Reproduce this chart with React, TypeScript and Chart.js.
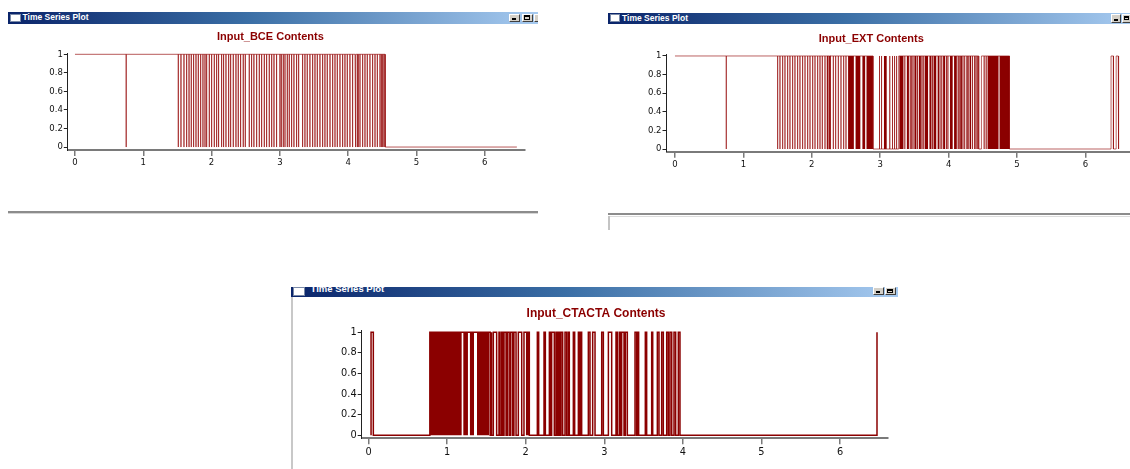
import React, { useEffect, useRef } from "react";
import { Chart, registerables } from "chart.js";

Chart.register(...registerables);

type Span = [number, number];
type Level = [number, number];

// ---------------- shared axis ticks ----------------
const xTickValues = [0, 1, 2, 3, 4, 5, 6];
const xTickLabels = ["0", "1", "2", "3", "4", "5", "6"];
const yTickValues = [0, 0.2, 0.4, 0.6, 0.8, 1];
const yTickLabels = ["0", "0.2", "0.4", "0.6", "0.8", "1"];

const windowCaption = "Time Series Plot";

// ---------------- Input_BCE ----------------
const bceTitle = "Input_BCE Contents";
const bceLevels: Level[] = [[0, 1], [4.545, 0]];
const bceSpikes: number[] = [
  0.75,
  1.513, 1.552, 1.596, 1.635, 1.67, 1.703, 1.737, 1.772, 1.806, 1.84, 1.874, 1.904, 1.928,
  1.967, 2.001, 2.04, 2.074, 2.103, 2.147, 2.176, 2.211, 2.25, 2.279, 2.318, 2.357, 2.391,
  2.425, 2.464, 2.494, 2.552, 2.586, 2.62, 2.66, 2.699, 2.733, 2.772, 2.806, 2.845, 2.88,
  2.914, 2.952, 3.001, 3.021, 3.05, 3.075, 3.109, 3.138, 3.172, 3.206, 3.245, 3.275, 3.333,
  3.367, 3.401, 3.44, 3.48, 3.514, 3.548, 3.587, 3.626, 3.66, 3.694, 3.734, 3.773, 3.807,
  3.841, 3.88, 3.919, 3.953, 3.987, 4.026, 4.065, 4.1, 4.114, 4.134, 4.148, 4.173, 4.212,
  4.246, 4.28, 4.319, 4.358, 4.393, 4.427, 4.466, 4.486, 4.505, 4.525, 4.54,
];
const bceSpans: Span[] = [];
const bceDense: Span[] = [];
const bceEnd = 6.47;

// ---------------- Input_EXT ----------------
const extTitle = "Input_EXT Contents";
const extLevels: Level[] = [
  [0, 1], [2.895, 0], [3.27, 1], [4.44, 0], [4.48, 1], [4.89, 0],
  [6.375, 1], [6.41, 0], [6.45, 1], [6.48, 0],
];
const extSpikes: number[] = [
  0.75,
  1.501, 1.535, 1.574, 1.608, 1.647, 1.681, 1.72, 1.754, 1.793, 1.827, 1.866, 1.901, 1.94,
  1.974, 2.013, 2.047, 2.086, 2.12, 2.154, 2.193, 2.232, 2.266, 2.315, 2.349, 2.388, 2.427,
  2.466, 2.5,
  2.99, 3.02, 3.14, 3.18, 3.21, 3.24,
  3.36, 3.44, 3.46, 3.48, 3.545, 3.61, 3.63, 3.765, 3.875, 3.9, 3.97, 3.99, 4.14, 4.155,
  4.21, 4.235, 4.295, 4.35, 4.38, 4.4, 4.42,
  4.52, 4.55,
];
const extSpans: Span[] = [[2.228, 2.24], [2.262, 2.274]];
const extDense: Span[] = [
  [2.53, 2.615], [2.64, 2.71], [2.74, 2.78], [2.8, 2.895], [3.055, 3.095], [3.28, 3.34],
  [3.39, 3.42], [3.5, 3.53], [3.565, 3.595], [3.65, 3.7], [3.72, 3.75], [3.78, 3.82],
  [3.84, 3.86], [3.92, 3.95], [4.02, 4.06], [4.08, 4.12], [4.17, 4.195], [4.26, 4.28],
  [4.31, 4.33], [4.57, 4.73], [4.745, 4.89],
];
const extEnd = 6.49;

// ---------------- Input_CTACTA ----------------
const ctaTitle = "Input_CTACTA Contents";
const ctaLevels: Level[] = [[0.032, 0], [0.78, 1], [2.046, 0], [6.47, 1]];
const ctaSpikes: number[] = [];
const ctaSpans: Span[] = [
  [0.032, 0.061],
  [1.548, 1.562], [1.567, 1.588], [1.63, 1.66], [1.673, 1.694], [1.707, 1.724], [1.75, 1.766],
  [1.79, 1.81], [1.835, 1.85], [1.877, 1.906], [1.949, 1.978],
  [2.148, 2.165], [2.233, 2.25], [2.301, 2.318], [2.33, 2.364], [2.385, 2.402], [2.419, 2.436],
  [2.449, 2.47], [2.5, 2.521], [2.542, 2.555], [2.606, 2.623], [2.67, 2.682], [2.7, 2.712],
  [2.797, 2.818], [2.852, 2.882], [2.967, 2.988], [3.052, 3.094], [3.149, 3.166], [3.191, 3.208],
  [3.221, 3.251], [3.268, 3.293], [3.391, 3.412], [3.421, 3.437], [3.522, 3.539], [3.603, 3.616],
  [3.675, 3.696], [3.73, 3.751], [3.794, 3.815], [3.836, 3.858], [3.887, 3.908], [3.942, 3.963],
];
const ctaDense: Span[] = [[0.78, 1.185], [1.206, 1.265], [1.29, 1.342], [1.38, 1.535], [2.003, 2.046]];
const ctaEnd = 6.47;

const RED = "#8b0000";

type Pt = { x: number; y: number };

function buildSignal(levels: Level[], spikes: number[], spans: Span[], end: number): Pt[] {
  type Ev = { t: number; k: number; v: number };
  const evs: Ev[] = [];
  levels.forEach(([t, v]) => evs.push({ t, k: 0, v }));
  spikes.forEach((t) => evs.push({ t, k: 1, v: 0 }));
  spans.forEach(([a, b]) => evs.push({ t: a, k: 2, v: b }));
  evs.sort((p, q) => p.t - q.t || p.k - q.k);
  const pts: Pt[] = [];
  let cur: number | null = null;
  for (const e of evs) {
    if (e.k === 0) {
      if (cur === null) pts.push({ x: e.t, y: e.v });
      else pts.push({ x: e.t, y: cur }, { x: e.t, y: e.v });
      cur = e.v;
    } else if (cur !== null) {
      const o = 1 - cur;
      if (e.k === 1) pts.push({ x: e.t, y: cur }, { x: e.t, y: o }, { x: e.t, y: cur });
      else pts.push({ x: e.t, y: cur }, { x: e.t, y: o }, { x: e.v, y: o }, { x: e.v, y: cur });
    }
  }
  if (cur !== null) pts.push({ x: end, y: cur });
  return pts;
}

function buildDense(blocks: Span[]): Pt[] {
  const pts: Pt[] = [];
  blocks.forEach(([a, b]) => pts.push({ x: a, y: 0 }, { x: a, y: 1 }, { x: b, y: 1 }, { x: b, y: 0 }));
  return pts;
}

type Cfg = {
  title: string;
  levels: Level[];
  spikes: number[];
  spans: Span[];
  dense: Span[];
  end: number;
  left: number;
  top: number;
  w: number;
  h: number;
  padL: number;
  padR: number;
  yW: number;
  xH: number;
  xMin: number;
  xMax: number;
  yMin: number;
  yMax: number;
  titleSize: number;
  titlePadTop: number;
  titlePadBottom: number;
  tickSize: number;
  lineW: number;
  lineColor: string;
};

const charts: Cfg[] = [
  {
    title: bceTitle, levels: bceLevels, spikes: bceSpikes, spans: bceSpans, dense: bceDense, end: bceEnd,
    left: 8, top: 24, w: 530, h: 188, padL: 7.8, padR: 13, yW: 52, xH: 62,
    xMin: -0.105, xMax: 6.589, yMin: -0.032, yMax: 1.014,
    titleSize: 11, titlePadTop: 6.7, titlePadBottom: 9.1, tickSize: 8.5, lineW: 0.8,
    lineColor: "rgba(150,10,10,0.85)",
  },
  {
    title: extTitle, levels: extLevels, spikes: extSpikes, spans: extSpans, dense: extDense, end: extEnd,
    left: 608, top: 24, w: 522, h: 190, padL: 4.6, padR: 0, yW: 53.9, xH: 62.3,
    xMin: -0.124, xMax: 6.652, yMin: -0.029, yMax: 1.018,
    titleSize: 11, titlePadTop: 8.1, titlePadBottom: 9.0, tickSize: 8.5, lineW: 0.8,
    lineColor: "rgba(150,10,10,0.8)",
  },
  {
    title: ctaTitle, levels: ctaLevels, spikes: ctaSpikes, spans: ctaSpans, dense: ctaDense, end: ctaEnd,
    left: 293, top: 297, w: 607, h: 172, padL: 11, padR: 12, yW: 57.7, xH: 30.7,
    xMin: -0.087, xMax: 6.61, yMin: -0.029, yMax: 1.022,
    titleSize: 12, titlePadTop: 9.1, titlePadBottom: 9.5, tickSize: 9.8, lineW: 1.5,
    lineColor: RED,
  },
];

function SignalChart({ c }: { c: Cfg }) {
  const ref = useRef<HTMLCanvasElement>(null);
  useEffect(() => {
    if (!ref.current) return;
    const tickFont = { family: "'DejaVu Sans', sans-serif", size: c.tickSize, weight: "normal" as const };
    const chart = new Chart(ref.current, {
      type: "line",
      data: {
        datasets: [
          {
            data: buildSignal(c.levels, c.spikes, c.spans, c.end),
            borderColor: c.lineColor,
            borderWidth: c.lineW,
            pointRadius: 0,
            fill: false,
            tension: 0,
          },
          {
            data: buildDense(c.dense),
            borderColor: "rgba(0,0,0,0)",
            borderWidth: 0,
            backgroundColor: RED,
            fill: "origin",
            pointRadius: 0,
            tension: 0,
          },
        ],
      },
      options: {
        animation: false,
        responsive: false,
        maintainAspectRatio: false,
        events: [],
        layout: { padding: { left: c.padL, right: c.padR, top: 0, bottom: 0 } },
        plugins: {
          legend: { display: false },
          tooltip: { enabled: false },
          title: {
            display: true,
            text: c.title,
            color: RED,
            font: { family: "'Liberation Sans', Arial, sans-serif", size: c.titleSize, weight: "bold" },
            padding: { top: c.titlePadTop, bottom: c.titlePadBottom },
          },
        },
        scales: {
          x: {
            type: "linear",
            bounds: "data",
            min: c.xMin,
            max: c.xMax,
            afterBuildTicks: (s: any) => {
              s.ticks = xTickValues.map((v) => ({ value: v }));
            },
            afterFit: (s: any) => {
              s.height = c.xH;
            },
            ticks: {
              font: tickFont,
              color: "#111",
              padding: 2,
              maxRotation: 0,
              autoSkip: false,
              callback: (_v: any, i: number) => xTickLabels[i],
            },
            grid: { drawOnChartArea: false, drawTicks: true, tickLength: 6, color: "#7a7a7a", lineWidth: 1.5 },
            border: { display: true, color: "#7a7a7a", width: 2 },
          },
          y: {
            type: "linear",
            bounds: "data",
            min: c.yMin,
            max: c.yMax,
            afterBuildTicks: (s: any) => {
              s.ticks = yTickValues.map((v) => ({ value: v }));
            },
            afterFit: (s: any) => {
              s.width = c.yW;
            },
            ticks: {
              font: tickFont,
              color: "#111",
              padding: 1,
              autoSkip: false,
              callback: (_v: any, i: number) => yTickLabels[i],
            },
            grid: { drawOnChartArea: false, drawTicks: true, tickLength: 4, color: "#222", lineWidth: 1 },
            border: { display: true, color: "#222", width: 1 },
          },
        },
      } as any,
    });
    return () => chart.destroy();
  }, [c]);
  return (
    <canvas
      ref={ref}
      width={c.w}
      height={c.h}
      style={{ position: "absolute", left: c.left, top: c.top, width: c.w, height: c.h }}
    />
  );
}

const btnBase: React.CSSProperties = {
  position: "absolute",
  background: "#d4d0c8",
  borderTop: "1px solid #ffffff",
  borderLeft: "1px solid #ffffff",
  borderRight: "1px solid #404040",
  borderBottom: "1px solid #404040",
  boxSizing: "border-box",
};

function MinBtn({ x, y, w, h }: { x: number; y: number; w: number; h: number }) {
  return (
    <div style={{ ...btnBase, left: x, top: y, width: w, height: h }}>
      <div style={{ position: "absolute", left: 2, bottom: 1, width: 4, height: 2, background: "#000" }} />
    </div>
  );
}
function MaxBtn({ x, y, w, h }: { x: number; y: number; w: number; h: number }) {
  return (
    <div style={{ ...btnBase, left: x, top: y, width: w, height: h }}>
      <div
        style={{
          position: "absolute", left: 1.5, top: 0.5, width: w - 5, height: h - 4,
          borderLeft: "1px solid #000", borderRight: "1px solid #000", borderBottom: "1px solid #000",
          borderTop: "2px solid #000", boxSizing: "border-box",
        }}
      />
    </div>
  );
}
function CloseBtn({ x, y, w, h }: { x: number; y: number; w: number; h: number }) {
  return <div style={{ ...btnBase, left: x, top: y, width: w, height: h }} />;
}

function TitleBar(props: {
  left: number; top: number; width: number; height: number;
  iconX: number; iconY: number; iconW: number; iconH: number;
  textX: number; textTop: number; fontSize: number; lineH: number;
  buttons: { kind: string; x: number; y: number; w: number; h: number }[];
}) {
  const p = props;
  return (
    <div
      style={{
        position: "absolute", left: p.left, top: p.top, width: p.width, height: p.height, overflow: "hidden",
        background: "linear-gradient(to right, #0a246a 0%, #3a6ea5 45%, #a6caf0 100%)",
      }}
    >
      <div
        style={{
          position: "absolute", left: p.iconX, top: p.iconY, width: p.iconW, height: p.iconH,
          background: "#ffffff", border: "1px solid #7a8aa8", boxSizing: "border-box",
        }}
      />
      <div
        style={{
          position: "absolute", left: p.textX, top: p.textTop, whiteSpace: "nowrap", color: "#ffffff",
          fontFamily: "'Liberation Sans', Arial, sans-serif", fontWeight: "bold", fontSize: p.fontSize,
          lineHeight: p.lineH + "px",
        }}
      >
        {windowCaption}
      </div>
      {p.buttons.map((b, i) =>
        b.kind === "min" ? <MinBtn key={i} {...b} /> : b.kind === "max" ? <MaxBtn key={i} {...b} /> : <CloseBtn key={i} {...b} />
      )}
    </div>
  );
}

export default function App() {
  return (
    <div
      style={{
        position: "fixed", left: 0, top: 0, width: 1130, height: 469, background: "#ffffff", overflow: "hidden",
      }}
    >
      {/* window 1 */}
      <TitleBar
        left={8} top={12} width={530} height={11.5}
        iconX={2} iconY={1.5} iconW={11} iconH={8}
        textX={14.5} textTop={0} fontSize={8.5} lineH={11.5}
        buttons={[
          { kind: "min", x: 501, y: 1.5, w: 11, h: 8.5 },
          { kind: "max", x: 513.5, y: 1.5, w: 11, h: 8.5 },
          { kind: "close", x: 525.5, y: 1.5, w: 11, h: 8.5 },
        ]}
      />
      <div style={{ position: "absolute", left: 8, top: 211, width: 530, height: 2, background: "#8c8c8c" }} />
      <div style={{ position: "absolute", left: 8, top: 213, width: 530, height: 1, background: "#d6d6d6" }} />

      {/* window 2 */}
      <TitleBar
        left={608} top={12.5} width={522} height={11.5}
        iconX={1.5} iconY={1.5} iconW={10.5} iconH={8}
        textX={14} textTop={0} fontSize={8.5} lineH={11.5}
        buttons={[
          { kind: "min", x: 503, y: 1.5, w: 10, h: 8.5 },
          { kind: "max", x: 513.5, y: 1.5, w: 10, h: 8.5 },
        ]}
      />
      <div style={{ position: "absolute", left: 608, top: 213, width: 522, height: 2, background: "#8c8c8c" }} />
      <div style={{ position: "absolute", left: 608, top: 216, width: 522, height: 1, background: "#dcdcdc" }} />
      <div style={{ position: "absolute", left: 608, top: 216, width: 2, height: 14, background: "#c4c4c4" }} />

      {/* window 3 */}
      <TitleBar
        left={291} top={286.5} width={607} height={10}
        iconX={2} iconY={0.5} iconW={12} iconH={8.5}
        textX={19.5} textTop={-3.5} fontSize={9.5} lineH={12}
        buttons={[
          { kind: "min", x: 581.5, y: 0.8, w: 11, h: 8.2 },
          { kind: "max", x: 593.5, y: 0.8, w: 11, h: 8.2 },
        ]}
      />
      <div style={{ position: "absolute", left: 291, top: 296.5, width: 2, height: 173, background: "#c8c8c8" }} />

      {charts.map((c, i) => (
        <SignalChart key={i} c={c} />
      ))}
    </div>
  );
}
